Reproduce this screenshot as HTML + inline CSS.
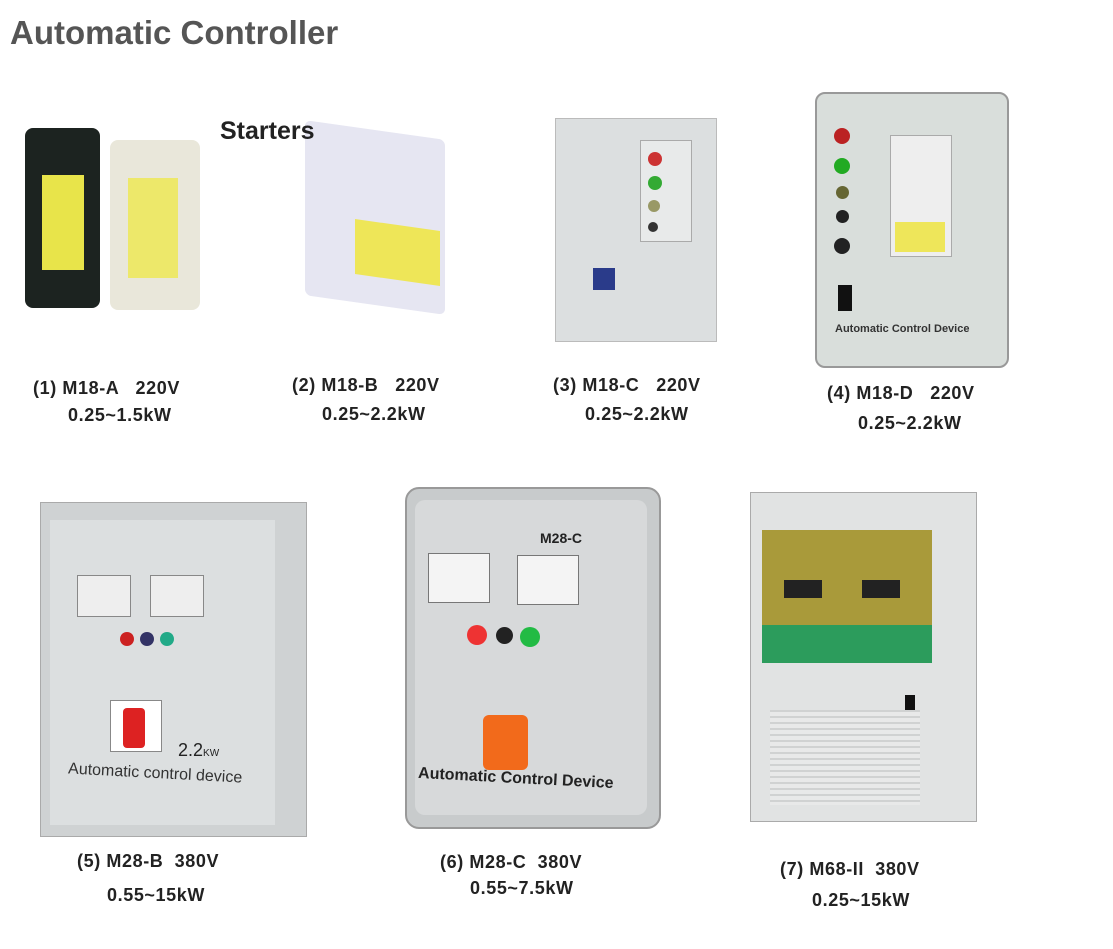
<!DOCTYPE html>
<html><head><meta charset="utf-8"><style>
body{margin:0;width:1113px;height:949px;background:#fff;position:relative;overflow:hidden;font-family:"Liberation Sans",Arial,sans-serif}
.a{position:absolute}
.t{position:absolute;font-weight:bold;color:#222;font-size:18px;letter-spacing:0.6px;white-space:pre}
.dot{position:absolute;border-radius:50%}
</style></head><body>
<div class="a" style="left:10px;top:14px;font-size:33px;font-weight:bold;color:#555">Automatic Controller</div>

<div class="a" style="left:25px;top:128px;width:75px;height:180px;background:#1c2320;border-radius:8px"></div>
<div class="a" style="left:42px;top:175px;width:42px;height:95px;background:#e8e44a"></div>
<div class="a" style="left:110px;top:140px;width:90px;height:170px;background:#e9e7da;border-radius:8px"></div>
<div class="a" style="left:128px;top:178px;width:50px;height:100px;background:#ede86a"></div>
<div class="a" style="left:305px;top:130px;width:140px;height:175px;background:#e6e6f2;transform:skew(0deg,8deg);border-radius:6px"></div>
<div class="a" style="left:355px;top:225px;width:85px;height:55px;background:#eee658;transform:skewY(8deg)"></div>
<div class="a" style="left:555px;top:118px;width:160px;height:222px;background:#dcdfe0;border:1px solid #bbb"></div>
<div class="a" style="left:640px;top:140px;width:50px;height:100px;background:#e8eaea;border:1px solid #aaa"></div>
<div class="dot" style="left:648px;top:152px;width:14px;height:14px;background:#c33"></div>
<div class="dot" style="left:648px;top:176px;width:14px;height:14px;background:#3a3"></div>
<div class="dot" style="left:648px;top:200px;width:12px;height:12px;background:#996"></div>
<div class="dot" style="left:648px;top:222px;width:10px;height:10px;background:#333"></div>
<div class="a" style="left:593px;top:268px;width:22px;height:22px;background:#2a3b8a"></div>
<div class="a" style="left:815px;top:92px;width:190px;height:272px;background:#d9dedb;border:2px solid #999;border-radius:10px"></div>
<div class="a" style="left:890px;top:135px;width:60px;height:120px;background:#eee;border:1px solid #aaa"></div>
<div class="a" style="left:895px;top:222px;width:50px;height:30px;background:#eee65a"></div>
<div class="dot" style="left:834px;top:128px;width:16px;height:16px;background:#b22"></div>
<div class="dot" style="left:834px;top:158px;width:16px;height:16px;background:#2a2"></div>
<div class="dot" style="left:836px;top:186px;width:13px;height:13px;background:#663"></div>
<div class="dot" style="left:836px;top:210px;width:13px;height:13px;background:#222"></div>
<div class="dot" style="left:834px;top:238px;width:16px;height:16px;background:#222"></div>
<div class="a" style="left:838px;top:285px;width:14px;height:26px;background:#111"></div>
<div class="a" style="left:835px;top:323px;font-size:11px;font-weight:bold;color:#333">Automatic Control Device</div>

<div class="t" style="left:33px;top:378px">(1) M18-A   220V</div>
<div class="t" style="left:68px;top:405px">0.25~1.5kW</div>
<div class="t" style="left:292px;top:375px">(2) M18-B   220V</div>
<div class="t" style="left:322px;top:404px">0.25~2.2kW</div>
<div class="t" style="left:553px;top:375px">(3) M18-C   220V</div>
<div class="t" style="left:585px;top:404px">0.25~2.2kW</div>
<div class="t" style="left:827px;top:383px">(4) M18-D   220V</div>
<div class="t" style="left:858px;top:413px">0.25~2.2kW</div>

<div class="a" style="left:40px;top:502px;width:265px;height:333px;background:#cfd2d3;border:1px solid #aaa"></div>
<div class="a" style="left:50px;top:520px;width:225px;height:305px;background:#dcdfe0"></div>
<div class="a" style="left:77px;top:575px;width:52px;height:40px;background:#eee;border:1px solid #888"></div>
<div class="a" style="left:150px;top:575px;width:52px;height:40px;background:#eee;border:1px solid #888"></div>
<div class="dot" style="left:120px;top:632px;width:14px;height:14px;background:#c22"></div>
<div class="dot" style="left:140px;top:632px;width:14px;height:14px;background:#336"></div>
<div class="dot" style="left:160px;top:632px;width:14px;height:14px;background:#2a8"></div>
<div class="a" style="left:110px;top:700px;width:50px;height:50px;background:#fff;border:1px solid #888"></div>
<div class="a" style="left:123px;top:708px;width:22px;height:40px;background:#d22;border-radius:4px"></div>
<div class="a" style="left:178px;top:740px;font-size:18px;color:#222">2.2<span style="font-size:10px">KW</span></div>
<div class="a" style="left:68px;top:765px;font-size:16px;color:#333;transform:rotate(3deg)">Automatic control device</div>
<div class="a" style="left:405px;top:487px;width:252px;height:338px;background:#c8cbcc;border-radius:14px;border:2px solid #999"></div>
<div class="a" style="left:415px;top:500px;width:232px;height:315px;background:#d7d9da;border-radius:10px"></div>
<div class="a" style="left:540px;top:530px;font-size:14px;font-weight:bold;color:#222">M28-C</div>
<div class="a" style="left:428px;top:553px;width:60px;height:48px;background:#f4f4f4;border:1px solid #777"></div>
<div class="a" style="left:517px;top:555px;width:60px;height:48px;background:#f4f4f4;border:1px solid #777"></div>
<div class="dot" style="left:467px;top:625px;width:20px;height:20px;background:#e33"></div>
<div class="dot" style="left:496px;top:627px;width:17px;height:17px;background:#222"></div>
<div class="dot" style="left:520px;top:627px;width:20px;height:20px;background:#2b4"></div>
<div class="a" style="left:483px;top:715px;width:45px;height:55px;background:#f26a1b;border-radius:6px"></div>
<div class="a" style="left:418px;top:770px;font-size:16px;font-weight:bold;color:#222;transform:rotate(3deg)">Automatic Control Device</div>
<div class="a" style="left:750px;top:492px;width:225px;height:328px;background:#e1e3e3;border:1px solid #aaa"></div>
<div class="a" style="left:762px;top:530px;width:170px;height:95px;background:#a99a3a"></div>
<div class="a" style="left:762px;top:625px;width:170px;height:38px;background:#2c9c5c"></div>
<div class="a" style="left:784px;top:580px;width:38px;height:18px;background:#222"></div>
<div class="a" style="left:862px;top:580px;width:38px;height:18px;background:#222"></div>
<div class="a" style="left:905px;top:695px;width:10px;height:18px;background:#111"></div>
<div class="a" style="left:770px;top:710px;width:150px;height:95px;background:repeating-linear-gradient(#d0d2d2 0 2px,#e8e9e9 2px 6px)"></div>

<div class="t" style="left:77px;top:851px">(5) M28-B  380V</div>
<div class="t" style="left:107px;top:885px">0.55~15kW</div>
<div class="t" style="left:440px;top:852px">(6) M28-C  380V</div>
<div class="t" style="left:470px;top:878px">0.55~7.5kW</div>
<div class="t" style="left:780px;top:859px">(7) M68-II  380V</div>
<div class="t" style="left:812px;top:890px">0.25~15kW</div>

<div class="a" style="left:220px;top:117px;font-size:25px;font-weight:bold;color:#222">Starters</div>
</body></html>
